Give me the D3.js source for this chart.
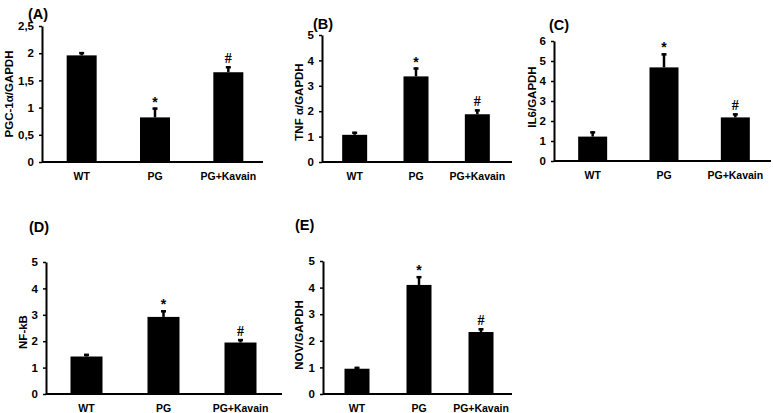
<!DOCTYPE html>
<html><head><meta charset="utf-8">
<script src="https://cdn.jsdelivr.net/npm/d3@7"></script>
<style>
html,body{margin:0;padding:0;background:#fff;}
svg{display:block;}
</style></head>
<body><svg id="c" width="773" height="413"></svg>
<script>
const categories = ["WT", "PG", "PG+Kavain"];
const markers = ["", "*", "#"];

const pgcMean = [1.96, 0.82, 1.65];
const pgcErr  = [0.06, 0.18, 0.11];
const pgcTicks = [0, 0.5, 1, 1.5, 2, 2.5];

const tnfMean = [1.07, 3.37, 1.88];
const tnfErr  = [0.12, 0.35, 0.19];
const tnfTicks = [0, 1, 2, 3, 4, 5];

const il6Mean = [1.22, 4.68, 2.18];
const il6Err  = [0.26, 0.70, 0.20];
const il6Ticks = [0, 1, 2, 3, 4, 5, 6];

const nfkbMean = [1.42, 2.92, 1.95];
const nfkbErr  = [0.10, 0.25, 0.13];
const nfkbTicks = [0, 1, 2, 3, 4, 5];

const novMean = [0.95, 4.10, 2.33];
const novErr  = [0.07, 0.33, 0.14];
const novTicks = [0, 1, 2, 3, 4, 5];

const panels = [
  {title:"(A)", ylab:"PGC-1\u03b1/GAPDH", mean:pgcMean, err:pgcErr, ticks:pgcTicks, max:2.5,
   ax:42, x0:45, x1:265, xe:263, y0:162, yt:26, bw:30, tx:28, ty:19, lx:9, ly:94},
  {title:"(B)", ylab:"TNF \u03b1/GAPDH", mean:tnfMean, err:tnfErr, ticks:tnfTicks, max:5,
   ax:322, x0:324, x1:508, xe:512, y0:162, yt:35, bw:25, tx:313, ty:29, lx:299, ly:102},
  {title:"(C)", ylab:"IL6/GAPDH", mean:il6Mean, err:il6Err, ticks:il6Ticks, max:6,
   ax:554, x0:557, x1:771, xe:771, y0:161, yt:41, bw:29, tx:549, ty:30, lx:532, ly:97},
  {title:"(D)", ylab:"NF-kB", mean:nfkbMean, err:nfkbErr, ticks:nfkbTicks, max:5,
   ax:46, x0:48, x1:279, xe:282, y0:394, yt:262, bw:32, tx:29, ty:232, lx:23, ly:332},
  {title:"(E)", ylab:"NOV/GAPDH", mean:novMean, err:novErr, ticks:novTicks, max:5,
   ax:323, x0:326, x1:512, xe:512, y0:394, yt:261, bw:25, tx:295, ty:230, lx:299, ly:335}
];

const svg = d3.select("#c");
const fmt = v => String(v).replace(".", ",");
const FONT = "Liberation Sans, Arial, Helvetica, sans-serif";

panels.forEach(p => {
  const g = svg.append("g");
  const y = d3.scaleLinear().domain([0, p.max]).range([p.y0, p.yt]);
  const x = d3.scaleBand().domain(categories).range([p.x0, p.x1]);

  // y axis
  const ya = g.append("g").attr("transform", `translate(${p.ax},0)`)
    .call(d3.axisLeft(y).tickValues(p.ticks).tickFormat(fmt).tickSize(3).tickSizeOuter(0).tickPadding(5));
  ya.select(".domain").attr("stroke", "#000").attr("stroke-width", 2);
  ya.selectAll(".tick line").attr("stroke", "#000").attr("stroke-width", 1.5);
  ya.selectAll(".tick text").attr("font-family", FONT).attr("font-weight", "bold")
    .attr("font-size", 11.5).attr("fill", "#000");

  // bars
  const data = categories.map((c, i) => ({c, m: p.mean[i], e: p.err[i], k: markers[i]}));
  g.selectAll("rect.bar").data(data).join("rect")
    .attr("x", d => x(d.c) + x.bandwidth()/2 - p.bw/2)
    .attr("width", p.bw)
    .attr("y", d => y(d.m))
    .attr("height", d => y(0) - y(d.m))
    .attr("fill", "#000");

  // error bars (upper)
  g.selectAll("line.err").data(data).join("line")
    .attr("x1", d => x(d.c) + x.bandwidth()/2).attr("x2", d => x(d.c) + x.bandwidth()/2)
    .attr("y1", d => y(d.m)).attr("y2", d => y(d.m + d.e))
    .attr("stroke", "#000").attr("stroke-width", 2.5);
  g.selectAll("line.cap").data(data).join("line")
    .attr("x1", d => x(d.c) + x.bandwidth()/2 - 2.5).attr("x2", d => x(d.c) + x.bandwidth()/2 + 2.5)
    .attr("y1", d => y(d.m + d.e) + 1).attr("y2", d => y(d.m + d.e) + 1)
    .attr("stroke", "#000").attr("stroke-width", 2.5);

  // significance markers
  g.selectAll("text.mk").data(data.filter(d => d.k)).join("text")
    .attr("x", d => x(d.c) + x.bandwidth()/2)
    .attr("y", d => y(d.m + d.e) - (d.k === "*" ? 1 : 3))
    .attr("text-anchor", "middle")
    .attr("font-family", d => d.k === "#" ? "Liberation Serif, Times New Roman, serif" : FONT)
    .attr("font-weight", "bold")
    .attr("font-size", 14)
    .text(d => d.k);

  // x axis line
  g.append("line").attr("x1", p.ax).attr("x2", p.xe).attr("y1", y(0)).attr("y2", y(0))
    .attr("stroke", "#000").attr("stroke-width", 2);

  // x labels
  const xa = g.append("g").attr("transform", `translate(0,${y(0)})`)
    .call(d3.axisBottom(x).tickSize(0).tickPadding(11));
  xa.select(".domain").remove();
  xa.selectAll(".tick text").attr("font-family", FONT).attr("font-weight", "bold")
    .attr("font-size", 10.5).attr("fill", "#000");

  // title
  g.append("text").attr("x", p.tx).attr("y", p.ty)
    .attr("font-family", FONT).attr("font-weight", "bold").attr("font-size", 14.5)
    .text(p.title);

  // y label
  g.append("text").attr("transform", `translate(${p.lx},${p.ly}) rotate(-90)`)
    .attr("text-anchor", "middle").attr("dominant-baseline", "central")
    .attr("font-family", FONT).attr("font-weight", "bold").attr("font-size", 11.5)
    .text(p.ylab);
});
</script></body></html>
